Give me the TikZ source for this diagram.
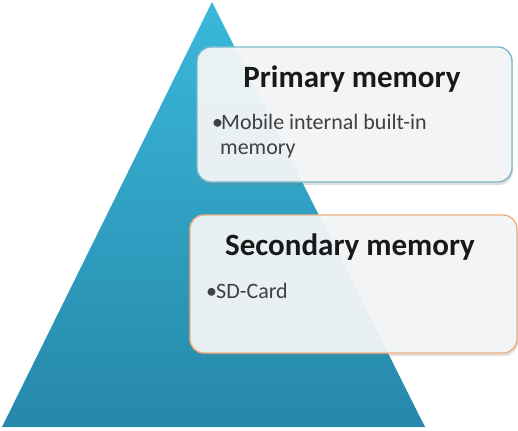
\documentclass[tikz,border=0pt]{standalone}
\usepackage{fontspec}
\setmainfont{Carlito}
\usepackage{tikz}
\usetikzlibrary{positioning,shadows}
\definecolor{pyrtop}{RGB}{58, 184, 218}
\definecolor{pyrbottom}{RGB}{38, 136, 170}
\definecolor{tealedge}{RGB}{120, 186, 200}
\definecolor{orangeedge}{RGB}{240, 176, 128}
\definecolor{boxfill}{RGB}{243, 246, 248}
\tikzset{
 membox/.style={
 rectangle,
 rounded corners=14pt,
 line width=1.4pt,
 fill=boxfill,
 fill opacity=0.94,
 draw opacity=1,
 drop shadow={opacity=0.25, shadow xshift=1pt, shadow yshift=-3pt},
 inner sep=0pt
 },
 boxtitle/.style={
 font=\fontsize{31}{34}\selectfont\bfseries,
 text=black!90,
 inner sep=0pt,
 anchor=base
 },
 boxitem/.style={
 font=\fontsize{22}{25}\selectfont,
 text=black!75,
 align=left,
 inner sep=0pt,
 anchor=base west
 }
}

\begin{document}
\begin{tikzpicture}[x=1pt, y=-1pt]
 \useasboundingbox (0,0) rectangle (518,430);

 \coordinate (apex) at (212,2);
 \coordinate (baseleft) at (2,427);
 \coordinate (baseright) at (425,427);
 \shade[top color=pyrtop, bottom color=pyrbottom] (apex) -- (baseright) -- (baseleft) -- cycle;

 \node[membox, draw=tealedge, minimum width=315pt, minimum height=135pt] (primary) at (354.5,114.5) {};
 \node[membox, draw=orangeedge, minimum width=327pt, minimum height=138pt] (secondary) at (353.5,284) {};

 \node[boxtitle] (primtitle) at (352,88) {Primary memory};
 % base of the last line
 \node[boxitem] (primitem) at (212,155) {\makebox[9pt][l]{•}Mobile internal built-in\\\hspace*{8pt}memory};

 \node[boxtitle] (sectitle) at (350,255) {Secondary memory};
 \node[boxitem] (secitem) at (206,298) {\makebox[10pt][l]{•}SD-Card};
\end{tikzpicture}
\end{document}
